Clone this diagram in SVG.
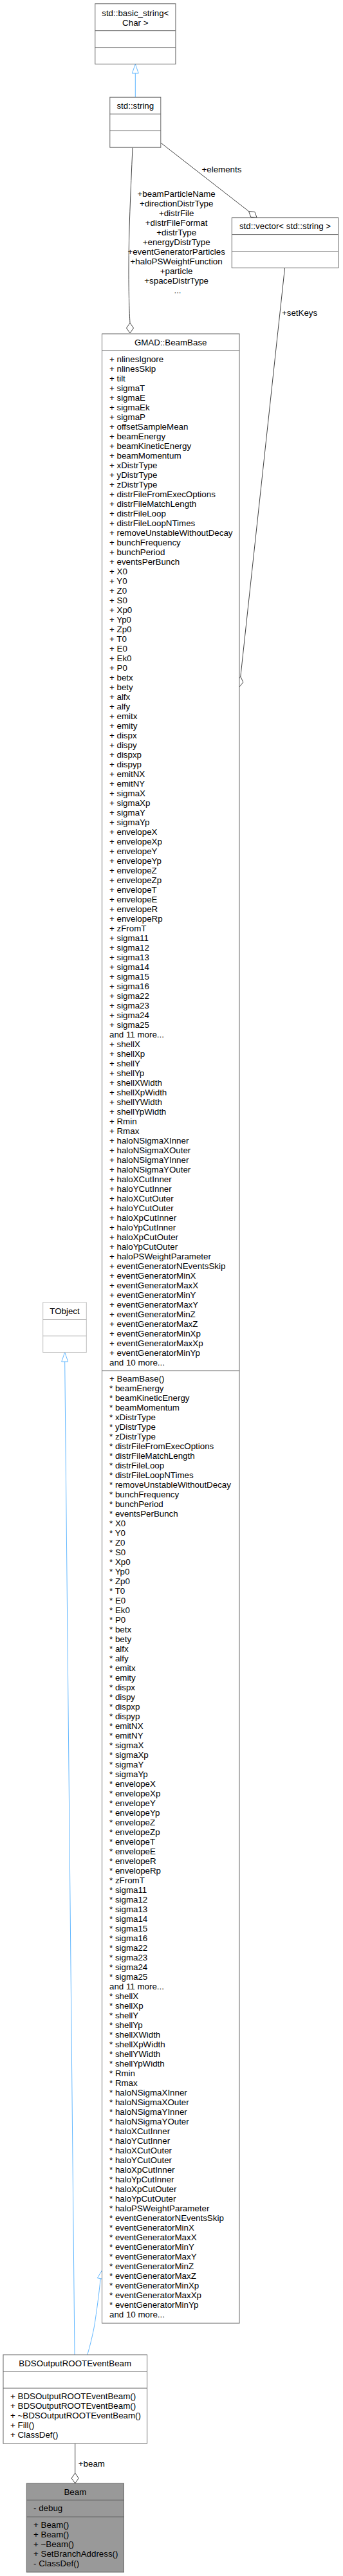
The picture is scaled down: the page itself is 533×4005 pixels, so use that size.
<svg xmlns="http://www.w3.org/2000/svg" width="533" height="4005" viewBox="0 0 533 4005">
<style>
text{font-family:"Liberation Sans",Arial,Helvetica,sans-serif;font-size:13.33px;fill:#000}
.c{text-anchor:middle}
.box{fill:#fff;stroke:#666;stroke-width:1}
.boxl{fill:#fff;stroke:#bfbfbf;stroke-width:1}
.cur{fill:#999;stroke:#666;stroke-width:1}
.sep{stroke:#666;stroke-width:1;fill:none}
.sepl{stroke:#bfbfbf;stroke-width:1;fill:none}
.e{fill:none;stroke:#404040;stroke-width:1}
.ed{fill:#fff;stroke:#404040;stroke-width:1}
.i{fill:none;stroke:#63b8ff;stroke-width:1}
.it{fill:#fff;stroke:#63b8ff;stroke-width:1}
</style>
<rect width="533" height="4005" fill="#fff"/>

<g id="edges">
  <path class="i" d="M210.3,151.2 L210.3,114"/>
  <polygon class="it" points="210.3,99.7 205.3,114 215.3,114"/>

  <path class="e" d="M249.8,222 L386.5,328.5"/>
  <polygon class="ed" points="386.5,328.5 389.7,337.3 399.1,338.3 395.9,329.5"/>
  <text x="313.5" y="267.5">+elements</text>

  <path class="e" d="M206,229.5 C203,300 200,360 200,420 C200,460 201,485 202,502"/>
  <polygon class="ed" points="202,502 196.5,510 202,518 207.5,510"/>
  <text class="c">
    <tspan x="276" y="305.5">+beamParticleName</tspan>
    <tspan x="276" dy="15">+directionDistrType</tspan>
    <tspan x="276" dy="15">+distrFile</tspan>
    <tspan x="276" dy="15">+distrFileFormat</tspan>
    <tspan x="276" dy="15">+distrType</tspan>
    <tspan x="276" dy="15">+energyDistrType</tspan>
    <tspan x="276" dy="15">+eventGeneratorParticles</tspan>
    <tspan x="276" dy="15">+haloPSWeightFunction</tspan>
    <tspan x="276" dy="15">+particle</tspan>
    <tspan x="276" dy="15">+spaceDistrType</tspan>
    <tspan x="276" dy="15">...</tspan>
  </text>

  <path class="e" d="M442.5,417 L373.8,1052"/>
  <polygon class="ed" points="373.8,1052 377.9,1060.5 372,1068 367.9,1059.5"/>
  <text x="438" y="490.5">+setKeys</text>

  <path class="i" d="M100.7,2117 L116,3661"/>
  <polygon class="it" points="100.7,2102.5 95.7,2117 105.7,2117"/>

  <path class="i" d="M135.8,3661 C140.5,3645 144.5,3628 146.8,3615 C150,3595 154,3565 156.2,3542.7"/>
  <polygon class="it" points="159,3529 161.1,3543.7 151.3,3541.7"/>

  <path class="e" d="M116.7,3799 L116.7,3845"/>
  <polygon class="ed" points="116.7,3845 111.2,3853 116.7,3861 122.2,3853"/>
  <text x="121.8" y="3835">+beam</text>
</g>

<g id="node_basic_string">
  <rect class="box" x="147.8" y="5.8" width="125.1" height="93.9"/>
  <text class="c" x="210.3" y="25">std::basic_string&lt;</text>
  <text class="c" x="210.3" y="39.6">Char &gt;</text>
  <path class="sep" d="M147.8,47.7 H272.9 M147.8,73.7 H272.9"/>
</g>

<g id="node_string">
  <rect class="box" x="170.8" y="151.2" width="79" height="78"/>
  <text class="c" x="210.3" y="168.9">std::string</text>
  <path class="sep" d="M170.8,177.2 H249.8 M170.8,203.2 H249.8"/>
</g>

<g id="node_vector">
  <rect class="box" x="360.3" y="338.6" width="165.5" height="78"/>
  <text class="c" x="443" y="356.3">std::vector&lt; std::string &gt;</text>
  <path class="sep" d="M360.3,364.6 H525.8 M360.3,390.6 H525.8"/>
</g>

<g id="node_TObject">
  <rect class="boxl" x="66.7" y="2025" width="67.6" height="77.5"/>
  <text class="c" x="100.5" y="2042.7">TObject</text>
  <path class="sepl" d="M66.7,2051.5 H134.3 M66.7,2077 H134.3"/>
</g>

<g id="node_BeamBase">
  <rect class="box" x="158.5" y="519" width="213.5" height="3093"/>
  <text class="c" x="265.2" y="536.7">GMAD::BeamBase</text>
  <path class="sep" d="M158.5,545 H372 M158.5,2131 H372"/>
  <text>
    <tspan x="170" y="562.5">+ nlinesIgnore</tspan>
    <tspan x="170" dy="15">+ nlinesSkip</tspan>
    <tspan x="170" dy="15">+ tilt</tspan>
    <tspan x="170" dy="15">+ sigmaT</tspan>
    <tspan x="170" dy="15">+ sigmaE</tspan>
    <tspan x="170" dy="15">+ sigmaEk</tspan>
    <tspan x="170" dy="15">+ sigmaP</tspan>
    <tspan x="170" dy="15">+ offsetSampleMean</tspan>
    <tspan x="170" dy="15">+ beamEnergy</tspan>
    <tspan x="170" dy="15">+ beamKineticEnergy</tspan>
    <tspan x="170" dy="15">+ beamMomentum</tspan>
    <tspan x="170" dy="15">+ xDistrType</tspan>
    <tspan x="170" dy="15">+ yDistrType</tspan>
    <tspan x="170" dy="15">+ zDistrType</tspan>
    <tspan x="170" dy="15">+ distrFileFromExecOptions</tspan>
    <tspan x="170" dy="15">+ distrFileMatchLength</tspan>
    <tspan x="170" dy="15">+ distrFileLoop</tspan>
    <tspan x="170" dy="15">+ distrFileLoopNTimes</tspan>
    <tspan x="170" dy="15">+ removeUnstableWithoutDecay</tspan>
    <tspan x="170" dy="15">+ bunchFrequency</tspan>
    <tspan x="170" dy="15">+ bunchPeriod</tspan>
    <tspan x="170" dy="15">+ eventsPerBunch</tspan>
    <tspan x="170" dy="15">+ X0</tspan>
    <tspan x="170" dy="15">+ Y0</tspan>
    <tspan x="170" dy="15">+ Z0</tspan>
    <tspan x="170" dy="15">+ S0</tspan>
    <tspan x="170" dy="15">+ Xp0</tspan>
    <tspan x="170" dy="15">+ Yp0</tspan>
    <tspan x="170" dy="15">+ Zp0</tspan>
    <tspan x="170" dy="15">+ T0</tspan>
    <tspan x="170" dy="15">+ E0</tspan>
    <tspan x="170" dy="15">+ Ek0</tspan>
    <tspan x="170" dy="15">+ P0</tspan>
    <tspan x="170" dy="15">+ betx</tspan>
    <tspan x="170" dy="15">+ bety</tspan>
    <tspan x="170" dy="15">+ alfx</tspan>
    <tspan x="170" dy="15">+ alfy</tspan>
    <tspan x="170" dy="15">+ emitx</tspan>
    <tspan x="170" dy="15">+ emity</tspan>
    <tspan x="170" dy="15">+ dispx</tspan>
    <tspan x="170" dy="15">+ dispy</tspan>
    <tspan x="170" dy="15">+ dispxp</tspan>
    <tspan x="170" dy="15">+ dispyp</tspan>
    <tspan x="170" dy="15">+ emitNX</tspan>
    <tspan x="170" dy="15">+ emitNY</tspan>
    <tspan x="170" dy="15">+ sigmaX</tspan>
    <tspan x="170" dy="15">+ sigmaXp</tspan>
    <tspan x="170" dy="15">+ sigmaY</tspan>
    <tspan x="170" dy="15">+ sigmaYp</tspan>
    <tspan x="170" dy="15">+ envelopeX</tspan>
    <tspan x="170" dy="15">+ envelopeXp</tspan>
    <tspan x="170" dy="15">+ envelopeY</tspan>
    <tspan x="170" dy="15">+ envelopeYp</tspan>
    <tspan x="170" dy="15">+ envelopeZ</tspan>
    <tspan x="170" dy="15">+ envelopeZp</tspan>
    <tspan x="170" dy="15">+ envelopeT</tspan>
    <tspan x="170" dy="15">+ envelopeE</tspan>
    <tspan x="170" dy="15">+ envelopeR</tspan>
    <tspan x="170" dy="15">+ envelopeRp</tspan>
    <tspan x="170" dy="15">+ zFromT</tspan>
    <tspan x="170" dy="15">+ sigma11</tspan>
    <tspan x="170" dy="15">+ sigma12</tspan>
    <tspan x="170" dy="15">+ sigma13</tspan>
    <tspan x="170" dy="15">+ sigma14</tspan>
    <tspan x="170" dy="15">+ sigma15</tspan>
    <tspan x="170" dy="15">+ sigma16</tspan>
    <tspan x="170" dy="15">+ sigma22</tspan>
    <tspan x="170" dy="15">+ sigma23</tspan>
    <tspan x="170" dy="15">+ sigma24</tspan>
    <tspan x="170" dy="15">+ sigma25</tspan>
    <tspan x="170" dy="15">and 11 more...</tspan>
    <tspan x="170" dy="15">+ shellX</tspan>
    <tspan x="170" dy="15">+ shellXp</tspan>
    <tspan x="170" dy="15">+ shellY</tspan>
    <tspan x="170" dy="15">+ shellYp</tspan>
    <tspan x="170" dy="15">+ shellXWidth</tspan>
    <tspan x="170" dy="15">+ shellXpWidth</tspan>
    <tspan x="170" dy="15">+ shellYWidth</tspan>
    <tspan x="170" dy="15">+ shellYpWidth</tspan>
    <tspan x="170" dy="15">+ Rmin</tspan>
    <tspan x="170" dy="15">+ Rmax</tspan>
    <tspan x="170" dy="15">+ haloNSigmaXInner</tspan>
    <tspan x="170" dy="15">+ haloNSigmaXOuter</tspan>
    <tspan x="170" dy="15">+ haloNSigmaYInner</tspan>
    <tspan x="170" dy="15">+ haloNSigmaYOuter</tspan>
    <tspan x="170" dy="15">+ haloXCutInner</tspan>
    <tspan x="170" dy="15">+ haloYCutInner</tspan>
    <tspan x="170" dy="15">+ haloXCutOuter</tspan>
    <tspan x="170" dy="15">+ haloYCutOuter</tspan>
    <tspan x="170" dy="15">+ haloXpCutInner</tspan>
    <tspan x="170" dy="15">+ haloYpCutInner</tspan>
    <tspan x="170" dy="15">+ haloXpCutOuter</tspan>
    <tspan x="170" dy="15">+ haloYpCutOuter</tspan>
    <tspan x="170" dy="15">+ haloPSWeightParameter</tspan>
    <tspan x="170" dy="15">+ eventGeneratorNEventsSkip</tspan>
    <tspan x="170" dy="15">+ eventGeneratorMinX</tspan>
    <tspan x="170" dy="15">+ eventGeneratorMaxX</tspan>
    <tspan x="170" dy="15">+ eventGeneratorMinY</tspan>
    <tspan x="170" dy="15">+ eventGeneratorMaxY</tspan>
    <tspan x="170" dy="15">+ eventGeneratorMinZ</tspan>
    <tspan x="170" dy="15">+ eventGeneratorMaxZ</tspan>
    <tspan x="170" dy="15">+ eventGeneratorMinXp</tspan>
    <tspan x="170" dy="15">+ eventGeneratorMaxXp</tspan>
    <tspan x="170" dy="15">+ eventGeneratorMinYp</tspan>
    <tspan x="170" dy="15">and 10 more...</tspan>
  </text>
  <text>
    <tspan x="170" y="2147.5">+ BeamBase()</tspan>
    <tspan x="170" dy="15">* beamEnergy</tspan>
    <tspan x="170" dy="15">* beamKineticEnergy</tspan>
    <tspan x="170" dy="15">* beamMomentum</tspan>
    <tspan x="170" dy="15">* xDistrType</tspan>
    <tspan x="170" dy="15">* yDistrType</tspan>
    <tspan x="170" dy="15">* zDistrType</tspan>
    <tspan x="170" dy="15">* distrFileFromExecOptions</tspan>
    <tspan x="170" dy="15">* distrFileMatchLength</tspan>
    <tspan x="170" dy="15">* distrFileLoop</tspan>
    <tspan x="170" dy="15">* distrFileLoopNTimes</tspan>
    <tspan x="170" dy="15">* removeUnstableWithoutDecay</tspan>
    <tspan x="170" dy="15">* bunchFrequency</tspan>
    <tspan x="170" dy="15">* bunchPeriod</tspan>
    <tspan x="170" dy="15">* eventsPerBunch</tspan>
    <tspan x="170" dy="15">* X0</tspan>
    <tspan x="170" dy="15">* Y0</tspan>
    <tspan x="170" dy="15">* Z0</tspan>
    <tspan x="170" dy="15">* S0</tspan>
    <tspan x="170" dy="15">* Xp0</tspan>
    <tspan x="170" dy="15">* Yp0</tspan>
    <tspan x="170" dy="15">* Zp0</tspan>
    <tspan x="170" dy="15">* T0</tspan>
    <tspan x="170" dy="15">* E0</tspan>
    <tspan x="170" dy="15">* Ek0</tspan>
    <tspan x="170" dy="15">* P0</tspan>
    <tspan x="170" dy="15">* betx</tspan>
    <tspan x="170" dy="15">* bety</tspan>
    <tspan x="170" dy="15">* alfx</tspan>
    <tspan x="170" dy="15">* alfy</tspan>
    <tspan x="170" dy="15">* emitx</tspan>
    <tspan x="170" dy="15">* emity</tspan>
    <tspan x="170" dy="15">* dispx</tspan>
    <tspan x="170" dy="15">* dispy</tspan>
    <tspan x="170" dy="15">* dispxp</tspan>
    <tspan x="170" dy="15">* dispyp</tspan>
    <tspan x="170" dy="15">* emitNX</tspan>
    <tspan x="170" dy="15">* emitNY</tspan>
    <tspan x="170" dy="15">* sigmaX</tspan>
    <tspan x="170" dy="15">* sigmaXp</tspan>
    <tspan x="170" dy="15">* sigmaY</tspan>
    <tspan x="170" dy="15">* sigmaYp</tspan>
    <tspan x="170" dy="15">* envelopeX</tspan>
    <tspan x="170" dy="15">* envelopeXp</tspan>
    <tspan x="170" dy="15">* envelopeY</tspan>
    <tspan x="170" dy="15">* envelopeYp</tspan>
    <tspan x="170" dy="15">* envelopeZ</tspan>
    <tspan x="170" dy="15">* envelopeZp</tspan>
    <tspan x="170" dy="15">* envelopeT</tspan>
    <tspan x="170" dy="15">* envelopeE</tspan>
    <tspan x="170" dy="15">* envelopeR</tspan>
    <tspan x="170" dy="15">* envelopeRp</tspan>
    <tspan x="170" dy="15">* zFromT</tspan>
    <tspan x="170" dy="15">* sigma11</tspan>
    <tspan x="170" dy="15">* sigma12</tspan>
    <tspan x="170" dy="15">* sigma13</tspan>
    <tspan x="170" dy="15">* sigma14</tspan>
    <tspan x="170" dy="15">* sigma15</tspan>
    <tspan x="170" dy="15">* sigma16</tspan>
    <tspan x="170" dy="15">* sigma22</tspan>
    <tspan x="170" dy="15">* sigma23</tspan>
    <tspan x="170" dy="15">* sigma24</tspan>
    <tspan x="170" dy="15">* sigma25</tspan>
    <tspan x="170" dy="15">and 11 more...</tspan>
    <tspan x="170" dy="15">* shellX</tspan>
    <tspan x="170" dy="15">* shellXp</tspan>
    <tspan x="170" dy="15">* shellY</tspan>
    <tspan x="170" dy="15">* shellYp</tspan>
    <tspan x="170" dy="15">* shellXWidth</tspan>
    <tspan x="170" dy="15">* shellXpWidth</tspan>
    <tspan x="170" dy="15">* shellYWidth</tspan>
    <tspan x="170" dy="15">* shellYpWidth</tspan>
    <tspan x="170" dy="15">* Rmin</tspan>
    <tspan x="170" dy="15">* Rmax</tspan>
    <tspan x="170" dy="15">* haloNSigmaXInner</tspan>
    <tspan x="170" dy="15">* haloNSigmaXOuter</tspan>
    <tspan x="170" dy="15">* haloNSigmaYInner</tspan>
    <tspan x="170" dy="15">* haloNSigmaYOuter</tspan>
    <tspan x="170" dy="15">* haloXCutInner</tspan>
    <tspan x="170" dy="15">* haloYCutInner</tspan>
    <tspan x="170" dy="15">* haloXCutOuter</tspan>
    <tspan x="170" dy="15">* haloYCutOuter</tspan>
    <tspan x="170" dy="15">* haloXpCutInner</tspan>
    <tspan x="170" dy="15">* haloYpCutInner</tspan>
    <tspan x="170" dy="15">* haloXpCutOuter</tspan>
    <tspan x="170" dy="15">* haloYpCutOuter</tspan>
    <tspan x="170" dy="15">* haloPSWeightParameter</tspan>
    <tspan x="170" dy="15">* eventGeneratorNEventsSkip</tspan>
    <tspan x="170" dy="15">* eventGeneratorMinX</tspan>
    <tspan x="170" dy="15">* eventGeneratorMaxX</tspan>
    <tspan x="170" dy="15">* eventGeneratorMinY</tspan>
    <tspan x="170" dy="15">* eventGeneratorMaxY</tspan>
    <tspan x="170" dy="15">* eventGeneratorMinZ</tspan>
    <tspan x="170" dy="15">* eventGeneratorMaxZ</tspan>
    <tspan x="170" dy="15">* eventGeneratorMinXp</tspan>
    <tspan x="170" dy="15">* eventGeneratorMaxXp</tspan>
    <tspan x="170" dy="15">* eventGeneratorMinYp</tspan>
    <tspan x="170" dy="15">and 10 more...</tspan>
  </text>
</g>

<g id="node_BDSOutputROOTEventBeam">
  <rect class="box" x="5" y="3661" width="223.5" height="138"/>
  <text class="c" x="116.7" y="3678.7">BDSOutputROOTEventBeam</text>
  <path class="sep" d="M5,3687 H228.5 M5,3713 H228.5"/>
  <text>
    <tspan x="16" y="3729.5">+ BDSOutputROOTEventBeam()</tspan>
    <tspan x="16" dy="15">+ BDSOutputROOTEventBeam()</tspan>
    <tspan x="16" dy="15">+ ~BDSOutputROOTEventBeam()</tspan>
    <tspan x="16" dy="15">+ Fill()</tspan>
    <tspan x="16" dy="15">+ ClassDef()</tspan>
  </text>
</g>

<g id="node_Beam">
  <rect class="cur" x="41.3" y="3861" width="151.2" height="138"/>
  <text class="c" x="116.9" y="3878.7">Beam</text>
  <path class="sep" d="M41.3,3887 H192.5 M41.3,3913 H192.5"/>
  <text x="52" y="3903.5">- debug</text>
  <text>
    <tspan x="52" y="3929.5">+ Beam()</tspan>
    <tspan x="52" dy="15">+ Beam()</tspan>
    <tspan x="52" dy="15">+ ~Beam()</tspan>
    <tspan x="52" dy="15">+ SetBranchAddress()</tspan>
    <tspan x="52" dy="15">- ClassDef()</tspan>
  </text>
</g>
</svg>
